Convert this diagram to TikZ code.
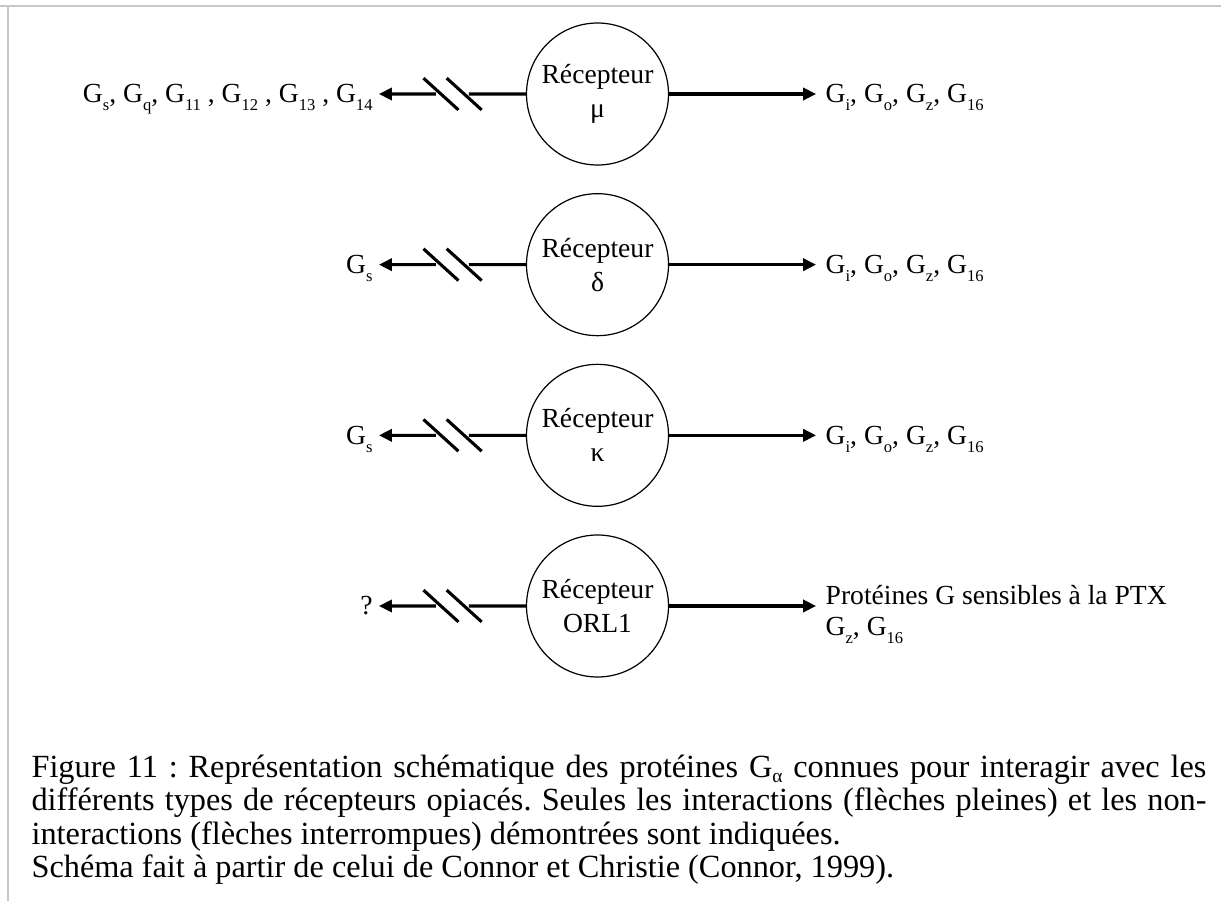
\documentclass[tikz,border=0pt]{standalone}
\usepackage{fontspec}
\setmainfont{Liberation Serif}
\newfontfamily\subfont[Scale=0.6]{Liberation Serif}
\usetikzlibrary{positioning,arrows.meta,calc}
\newcommand{\Gp}[2][0.29em]{G\raisebox{-#1}{\subfont #2}}
\newcommand{\cutarrow}[2]{%
  \draw (#1.west) -- ($(#1.west)!0.388!(#2.east)$);
  \draw[->] ($(#1.west)!0.612!(#2.east)$) -- (#2);
  \foreach \f in {0.42,0.578}
    \draw ($(#1.west)!\f!(#2.east)$) ++(-6.5pt,5.9pt) -- ++(13pt,-11.8pt);
}

\begin{document}
\frenchspacing
\begin{tikzpicture}[x=0.3715pt, y=-0.3715pt, line width=1.15pt,
  >={Triangle[length=4.8pt,width=4.5pt]},
  rec/.style={circle, draw, line width=0.45pt, minimum size=52.75pt, inner sep=0pt,
    align=center, font=\fontsize{10.25}{12.6}\selectfont},
  lab/.style={font=\fontsize{10.25}{11.5}\selectfont, inner ysep=0pt},
  gleft/.style={lab, text height=1.45ex, text depth=0pt, inner xsep=1.8pt},
  gright/.style={lab, text height=1.45ex, text depth=0pt, inner xsep=3pt},
  capline/.style={anchor=base west, inner sep=0pt, font=\fontsize{12}{12.5}\selectfont}]
\useasboundingbox (0,0) rectangle (1221,901);
\draw[line width=0.75pt, black!22] (0,6) -- (1221,6) (8,6) -- (8,901);
\node[rec] (m1) at (597.5,94) {Récepteur\\μ};
\node[rec, below=10.2pt of m1] (m2) {Récepteur\\δ};
\node[rec, below=10.2pt of m2] (m3) {Récepteur\\κ};
\node[rec, below=10.2pt of m3] (m4) {Récepteur\\ORL1};
\node[gleft, left=54.6pt of m1] (l1) {\Gp{s}, \Gp{q}, \Gp{11} , \Gp{12} , \Gp{13} , \Gp{14}};
\node[gleft, left=54.6pt of m2] (l2) {\Gp{s}};
\node[gleft, left=54.6pt of m3] (l3) {\Gp{s}};
\node[gleft, left=54.6pt of m4] (l4) {?};
\node[gright, right=54.6pt of m1] (r1) {\Gp{i}, \Gp{o}, \Gp{z}, \Gp{16}};
\node[gright, right=54.6pt of m2] (r2) {\Gp{i}, \Gp{o}, \Gp{z}, \Gp{16}};
\node[gright, right=54.6pt of m3] (r3) {\Gp{i}, \Gp{o}, \Gp{z}, \Gp{16}};
\node[lab, inner xsep=3pt, align=left, right=54.6pt of m4] (r4) {\rule{0pt}{13.7pt}Protéines G sensibles à la PTX\\\Gp{z}, \Gp{16}};
\path[->]
(m1) edge (r1)
(m2) edge (r2)
(m3) edge (r3)
(m4) edge (r4);
\cutarrow{m1}{l1}
\cutarrow{m2}{l2}
\cutarrow{m3}{l3}
\cutarrow{m4}{l4}
\node[capline] (cap1) at (30,777) {\makebox[436.5pt][s]{Figure 11 : Représentation schématique des protéines \Gp[0.18em]{α} connues pour interagir avec les}};
\node[capline] (cap2) at (30,810.5) {\makebox[436.5pt][s]{différents types de récepteurs opiacés. Seules les interactions (flèches pleines) et les non-}};
\node[capline] (cap3) at (30,844) {interactions (flèches interrompues) démontrées sont indiquées.};
\node[capline] (cap4) at (30,877.5) {Schéma fait à partir de celui de Connor et Christie (Connor, 1999).};
\end{tikzpicture}
\end{document}
